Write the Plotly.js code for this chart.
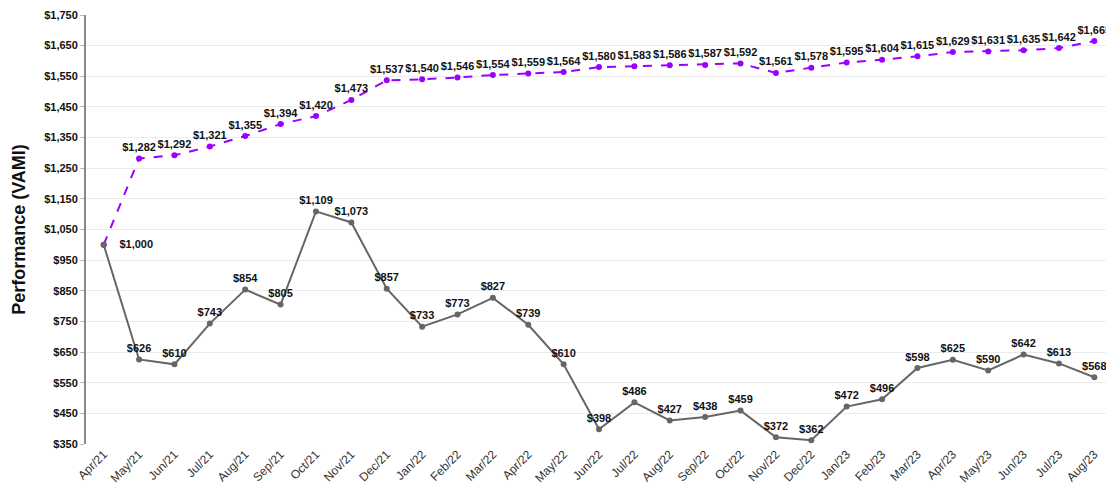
<!DOCTYPE html>
<html><head><meta charset="utf-8">
<script src="https://cdn.plot.ly/plotly-3.0.1.min.js"></script>
<style>html,body{margin:0;padding:0;background:#fff}#chart{width:1106px;height:494px}</style>
</head><body><div id="chart"></div>
<script>
const months = ["Apr/21","May/21","Jun/21","Jul/21","Aug/21","Sep/21","Oct/21","Nov/21","Dec/21","Jan/22","Feb/22","Mar/22","Apr/22","May/22","Jun/22","Jul/22","Aug/22","Sep/22","Oct/22","Nov/22","Dec/22","Jan/23","Feb/23","Mar/23","Apr/23","May/23","Jun/23","Jul/23","Aug/23"];
const fundValues = [1000,626,610,743,854,805,1109,1073,857,733,773,827,739,610,398,486,427,438,459,372,362,472,496,598,625,590,642,613,568];
const benchValues = [1000,1282,1292,1321,1355,1394,1420,1473,1537,1540,1546,1554,1559,1564,1580,1583,1586,1587,1592,1561,1578,1595,1604,1615,1629,1631,1635,1642,1665];
const yTickVals = [350,450,550,650,750,850,950,1050,1150,1250,1350,1450,1550,1650,1750];

const fmt = v => "$" + v.toLocaleString("en-US");
const fundText = fundValues.map((v,i) => i === 0 ? "\u2002\u2002" + fmt(v) : fmt(v));
const benchText = benchValues.map((v,i) => i === 0 ? "" : fmt(v));
const fundPos = fundValues.map((v,i) => i === 0 ? "middle right" : "top center");

const FF = "Liberation Sans, Arial, sans-serif";
const labelFont = {family:FF, size:11, color:"#111", weight:"bold"};

const traces = [
  {x: months, y: benchValues, type:"scatter", mode:"lines+markers+text",
   line:{color:"#9b00ff", width:2, dash:"dash"}, marker:{color:"#9b00ff", size:6},
   text: benchText, textposition:"top center", textfont: labelFont, cliponaxis:false, hoverinfo:"none"},
  {x: months, y: fundValues, type:"scatter", mode:"lines+markers+text",
   line:{color:"#666666", width:2}, marker:{color:"#666666", size:6},
   text: fundText, textposition: fundPos, textfont: labelFont, cliponaxis:false, hoverinfo:"none"}
];

const layout = {
  width:1106, height:494,
  margin:{l:86, r:0, t:15, b:50},
  paper_bgcolor:"#fff", plot_bgcolor:"#fff",
  showlegend:false,
  font:{family:FF, color:"#111"},
  xaxis:{type:"category", range:[-0.5, 28.33], tickangle:-45,
    tickfont:{family:FF, size:12, color:"#333"},
    showgrid:false, showline:false, zeroline:false, ticks:""},
  yaxis:{range:[350,1750], tickvals:yTickVals, ticktext:yTickVals.map(fmt),
    tickfont:{family:FF, size:11, color:"#111", weight:"bold"},
    showgrid:true, gridcolor:"#ebebeb", gridwidth:1, zeroline:false,
    showline:true, linecolor:"#888", linewidth:2, ticks:"outside", ticklen:4, tickcolor:"#bbb",
    title:{text:"Performance (VAMI)", font:{family:FF, size:18, color:"#111", weight:"bold"}, standoff:14}}
};

Plotly.newPlot("chart", traces, layout, {displayModeBar:false, staticPlot:true});
</script></body></html>
